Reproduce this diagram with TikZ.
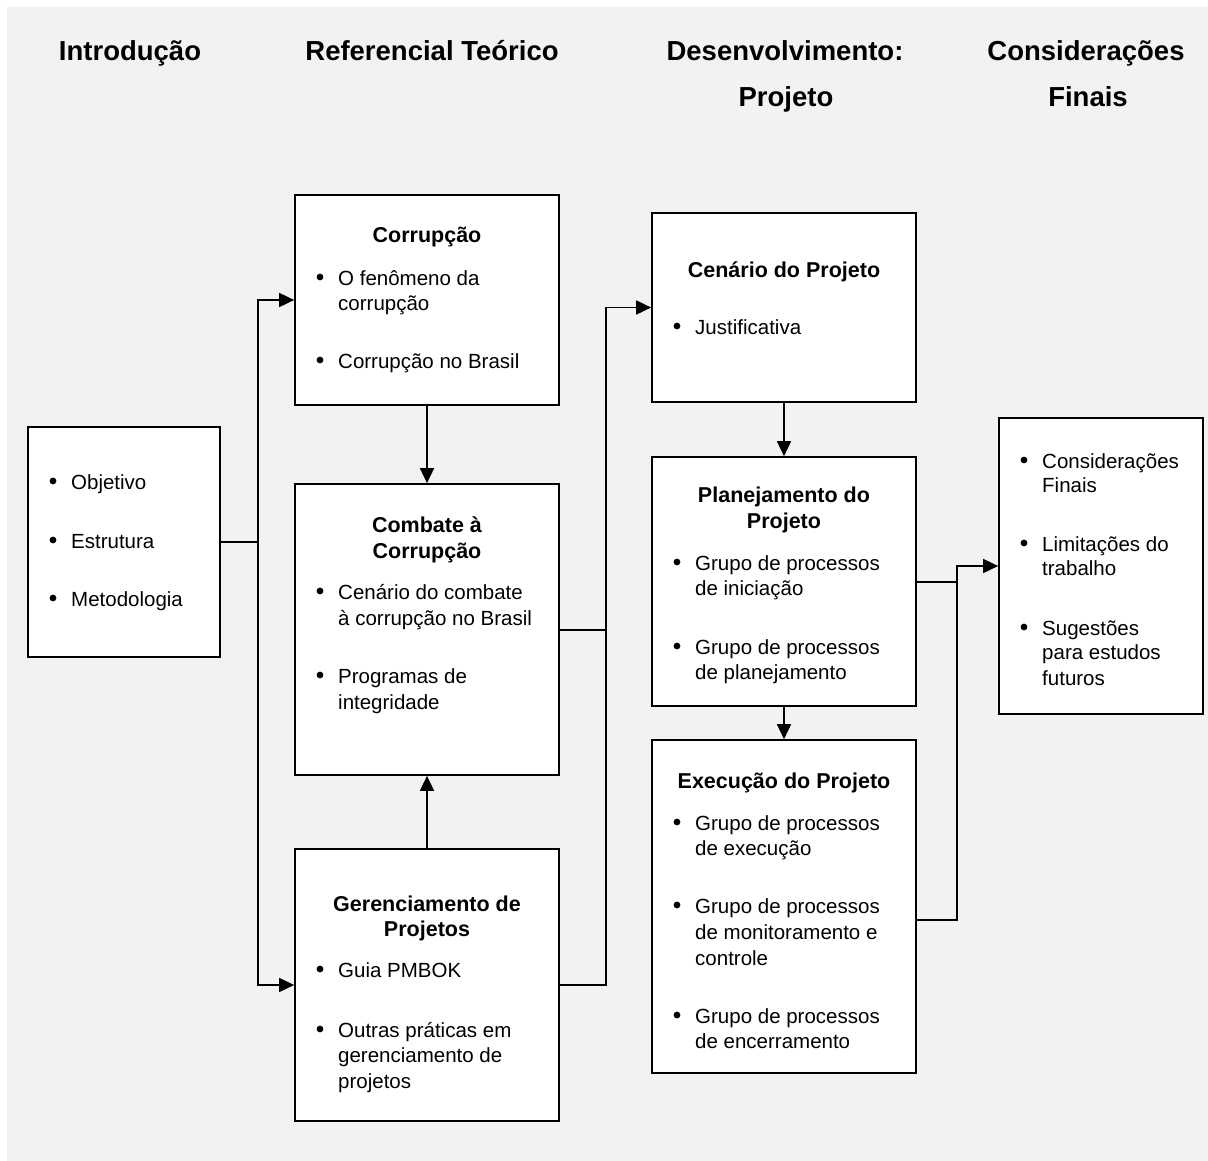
\documentclass[tikz,border=0pt]{standalone}
\usepackage{fontspec}
\setmainfont{Liberation Sans}
\usetikzlibrary{arrows.meta}
\definecolor{panel}{HTML}{F2F2F2}
\begin{document}
\begin{tikzpicture}[x=1pt,y=-1pt,
  box/.style={draw=black, line width=1.7pt, fill=white, inner sep=0pt},
  body/.style={font=\fontsize{20.5}{25}\selectfont, inner sep=0pt, anchor=base west},
  ttl/.style={font=\fontsize{21.5}{26}\selectfont\bfseries, inner sep=0pt, anchor=base},
  head/.style={font=\fontsize{27.5}{33}\selectfont\bfseries, inner sep=0pt, anchor=base},
  bul/.style={fill=black},
  link/.style={line width=1.7pt},
  arr/.style={link, -{Triangle[length=15pt,width=14pt]}},
]
% page and panel
\useasboundingbox (0,0) rectangle (1208,1160);
\fill[white] (0,0) rectangle (1208,1160);
\fill[panel] (7,7) rectangle (1212,1164);

% column headings
\node[head] (h1) at (130,60) {Introdução};
\node[head] (h2) at (432,60) {Referencial Teórico};
\node[head] (h3a) at (785,60) {Desenvolvimento:};
\node[head] (h3b) at (786,106) {Projeto};
\node[head] (h4a) at (1086,60) {Considerações};
\node[head] (h4b) at (1088,106) {Finais};

% boxes
\node[box, minimum width=192pt, minimum height=230pt] (intro) at (124,542) {};
\node[box, minimum width=264pt, minimum height=210pt] (cor) at (427,300) {};
\node[box, minimum width=264pt, minimum height=291pt] (com) at (427,629.5) {};
\node[box, minimum width=264pt, minimum height=272pt] (ger) at (427,985) {};
\node[box, minimum width=264pt, minimum height=189pt] (cen) at (784,307.5) {};
\node[box, minimum width=264pt, minimum height=249pt] (pla) at (784,581.5) {};
\node[box, minimum width=264pt, minimum height=333pt] (exe) at (784,906.5) {};
\node[box, minimum width=204pt, minimum height=296pt] (con) at (1101,566) {};

% Introdução
\fill[bul] (53,481) circle (3.4pt);
\node[body] (i1) at (71,489) {Objetivo};
\fill[bul] (53,540) circle (3.4pt);
\node[body] (i2) at (71,548) {Estrutura};
\fill[bul] (53,598) circle (3.4pt);
\node[body] (i3) at (71,606) {Metodologia};

% Corrupção
\node[ttl] (cort) at (427,242) {Corrupção};
\fill[bul] (320,277) circle (3.4pt);
\node[body] (cor1) at (338,285) {O fenômeno da};
\node[body] (cor2) at (338,310) {corrupção};
\fill[bul] (320,360) circle (3.4pt);
\node[body] (cor3) at (338,368) {Corrupção no Brasil};

% Combate à Corrupção
\node[ttl] (comt1) at (427,532) {Combate à};
\node[ttl] (comt2) at (427,558) {Corrupção};
\fill[bul] (320,591) circle (3.4pt);
\node[body] (com1) at (338,599) {Cenário do combate};
\node[body] (com2) at (338,625) {à corrupção no Brasil};
\fill[bul] (320,675) circle (3.4pt);
\node[body] (com3) at (338,683) {Programas de};
\node[body] (com4) at (338,709) {integridade};

% Gerenciamento de Projetos
\node[ttl] (gert1) at (427,911) {Gerenciamento de};
\node[ttl] (gert2) at (427,936) {Projetos};
\fill[bul] (320,969) circle (3.4pt);
\node[body] (ger1) at (338,977) {Guia PMBOK};
\fill[bul] (320,1029) circle (3.4pt);
\node[body] (ger2) at (338,1037) {Outras práticas em};
\node[body] (ger3) at (338,1062) {gerenciamento de};
\node[body] (ger4) at (338,1088) {projetos};

% Cenário do Projeto
\node[ttl] (cent) at (784,277) {Cenário do Projeto};
\fill[bul] (677,326) circle (3.4pt);
\node[body] (cen1) at (695,334) {Justificativa};

% Planejamento do Projeto
\node[ttl] (plat1) at (784,502) {Planejamento do};
\node[ttl] (plat2) at (784,528) {Projeto};
\fill[bul] (677,562) circle (3.4pt);
\node[body] (pla1) at (695,570) {Grupo de processos};
\node[body] (pla2) at (695,595) {de iniciação};
\fill[bul] (677,646) circle (3.4pt);
\node[body] (pla3) at (695,654) {Grupo de processos};
\node[body] (pla4) at (695,679) {de planejamento};

% Execução do Projeto
\node[ttl] (exet) at (784,788) {Execução do Projeto};
\fill[bul] (677,822) circle (3.4pt);
\node[body] (exe1) at (695,830) {Grupo de processos};
\node[body] (exe2) at (695,855) {de execução};
\fill[bul] (677,905) circle (3.4pt);
\node[body] (exe3) at (695,913) {Grupo de processos};
\node[body] (exe4) at (695,939) {de monitoramento e};
\node[body] (exe5) at (695,965) {controle};
\fill[bul] (677,1015) circle (3.4pt);
\node[body] (exe6) at (695,1023) {Grupo de processos};
\node[body] (exe7) at (695,1048) {de encerramento};

% Considerações Finais
\fill[bul] (1024,460) circle (3.4pt);
\node[body] (con1) at (1042,468) {Considerações};
\node[body] (con2) at (1042,492) {Finais};
\fill[bul] (1024,543) circle (3.4pt);
\node[body] (con3) at (1042,551) {Limitações do};
\node[body] (con4) at (1042,575) {trabalho};
\fill[bul] (1024,627) circle (3.4pt);
\node[body] (con5) at (1042,635) {Sugestões};
\node[body] (con6) at (1042,659) {para estudos};
\node[body] (con7) at (1042,685) {futuros};

% connectors
\coordinate (j1) at (258,542);
\draw[link] (intro.east) -- (j1);
\draw[arr] (j1) |- (cor.west);
\draw[arr] (j1) |- (ger.west);

\draw[arr] (cor.south) -- (com.north);
\draw[arr] (ger.north) -- (com.south);

\coordinate (j2) at (606,630);
\draw[link] (com.east |- j2) -- (j2);
\draw[link] (ger.east) -| (j2);
\draw[arr] (j2) |- (cen.west);

\draw[arr] (cen.south) -- (pla.north);
\draw[arr] (pla.south) -- (exe.north);

\coordinate (j3) at (957,582);
\coordinate (exo) at (916,920);
\draw[link] (pla.east |- j3) -- (j3);
\draw[link] (exo) -| (j3);
\draw[arr] (j3) |- (con.west);
\end{tikzpicture}
\end{document}
